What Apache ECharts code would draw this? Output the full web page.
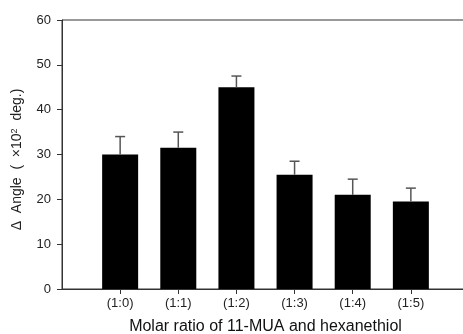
<!DOCTYPE html>
<html>
<head>
<meta charset="utf-8">
<script src="https://cdn.jsdelivr.net/npm/echarts@6/dist/echarts.min.js"></script>
<style>html,body{margin:0;padding:0;background:#fff}#c{width:463px;height:334px}</style>
</head>
<body>
<div id="c"></div>
<script>
const categories = ['(1:0)', '(1:1)', '(1:2)', '(1:3)', '(1:4)', '(1:5)'];
const values = [30, 31.5, 45, 25.5, 21, 19.5];
const errors = [4, 3.5, 2.5, 3, 3.5, 3];
const yTicks = [0, 10, 20, 30, 40, 50, 60];

const positions = categories.map((c, i) => i + 1);
const barData = values.map((v, i) => [positions[i], v]);
const errData = values.map((v, i) => [positions[i], v, v + errors[i]]);

const chart = echarts.init(document.getElementById('c'), null, {renderer: 'canvas'});
const font = 'Liberation Sans, Arial, sans-serif';
chart.setOption({
  animation: false,
  backgroundColor: '#fff',
  grid: {left: 62, top: 20, width: 407, height: 269, show: true, borderColor: '#333', borderWidth: 1,
    containLabel: false, outerBoundsMode: 'none'},
  xAxis: {
    type: 'value', min: 0, max: 7, interval: 1,
    name: 'Molar ratio of 11-MUA and hexanethiol',
    nameLocation: 'middle', nameGap: 30,
    nameTextStyle: {fontFamily: font, fontSize: 16, color: '#111'},
    axisLine: {show: true, onZero: false, lineStyle: {color: '#333', width: 1}},
    axisTick: {show: true, length: 5, lineStyle: {color: '#333'}, customValues: positions},
    axisLabel: {
      fontFamily: font, fontSize: 13, color: '#222', margin: 8,
      customValues: positions,
      formatter: v => (v >= 1 && v <= categories.length && Number.isInteger(v)) ? categories[v - 1] : ''
    },
    splitLine: {show: false}
  },
  yAxis: {
    type: 'value', min: 0, max: 60, interval: 10,
    name: 'Δ  Angle  (  ×10{sup|2}  deg.)',
    nameLocation: 'middle', nameGap: 37, nameRotate: 90,
    nameTextStyle: {fontFamily: font, fontSize: 14, color: '#222', padding: [0, 10, 0, 0],
      rich: {sup: {fontFamily: font, fontSize: 9, color: '#222', verticalAlign: 'top', padding: [0, 0, 6, 0]}}},
    axisLine: {show: true, lineStyle: {color: '#333', width: 1}},
    axisTick: {show: true, length: 5, lineStyle: {color: '#333'}},
    axisLabel: {fontFamily: font, fontSize: 13, color: '#222', margin: 11,
      formatter: v => yTicks.includes(v) ? String(v) : ''},
    splitLine: {show: false}
  },
  series: [
    {
      type: 'bar', data: barData, barWidth: 36,
      itemStyle: {color: '#000'}, z: 2
    },
    {
      type: 'custom', data: errData, z: 3,
      renderItem: function (params, api) {
        const x = api.value(0);
        const base = api.coord([x, api.value(1)]);
        const top = api.coord([x, api.value(2)]);
        const hw = 5;
        return {
          type: 'group',
          children: [
            {type: 'line', shape: {x1: base[0], y1: base[1], x2: top[0], y2: top[1]}, style: {stroke: '#555', lineWidth: 1.5}},
            {type: 'line', shape: {x1: top[0] - hw, y1: top[1], x2: top[0] + hw, y2: top[1]}, style: {stroke: '#555', lineWidth: 1.5}}
          ]
        };
      }
    }
  ]
});
</script>
</body>
</html>
